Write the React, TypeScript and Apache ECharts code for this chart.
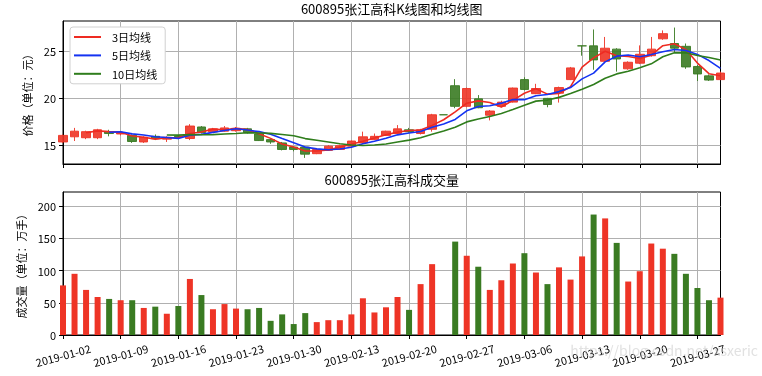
import React, { useEffect, useRef } from 'react';
import * as echarts from 'echarts';

const dates = [
  '2019-01-02','2019-01-03','2019-01-04','2019-01-07','2019-01-08','2019-01-09','2019-01-10','2019-01-11','2019-01-14','2019-01-15',
  '2019-01-16','2019-01-17','2019-01-18','2019-01-21','2019-01-22','2019-01-23','2019-01-24','2019-01-25','2019-01-28','2019-01-29',
  '2019-01-30','2019-01-31','2019-02-01','2019-02-11','2019-02-12','2019-02-13','2019-02-14','2019-02-15','2019-02-18','2019-02-19',
  '2019-02-20','2019-02-21','2019-02-22','2019-02-25','2019-02-26','2019-02-27','2019-02-28','2019-03-01','2019-03-04','2019-03-05',
  '2019-03-06','2019-03-07','2019-03-08','2019-03-11','2019-03-12','2019-03-13','2019-03-14','2019-03-15','2019-03-18','2019-03-19',
  '2019-03-20','2019-03-21','2019-03-22','2019-03-25','2019-03-26','2019-03-27','2019-03-28','2019-03-29',
];

const opens = [
  15.3, 15.85, 15.75, 15.75, 16.4, 16.15, 16.0, 15.3, 15.9, 15.6,
  15.9, 15.67, 16.9, 16.38, 16.45, 16.5, 16.7, 16.15, 15.55, 15.2,
  14.75, 14.75, 14.05, 14.4, 14.5, 14.85, 15.2, 15.55, 16.0, 16.2,
  16.6, 16.2, 16.65, 18.2, 21.3, 19.1, 19.9, 18.15, 19.1, 19.55,
  21.95, 20.45, 19.95, 20.5, 21.95, 25.55, 25.55, 23.9, 25.2, 23.1,
  23.7, 24.5, 26.3, 25.8, 25.5, 23.35, 22.35, 21.95,
];
const closes = [
  16.0, 16.45, 16.4, 16.6, 16.2, 16.25, 15.35, 15.8, 15.65, 15.8,
  15.8, 17.0, 16.3, 16.7, 16.8, 16.75, 16.3, 15.45, 15.3, 14.5,
  14.5, 14.0, 14.5, 14.85, 14.9, 15.4, 15.85, 15.9, 16.45, 16.7,
  16.4, 16.6, 18.2, 18.2, 19.1, 21.0, 18.95, 18.6, 19.55, 21.05,
  20.9, 21.0, 19.3, 21.1, 23.2, 25.55, 24.05, 25.3, 24.15, 23.8,
  24.65, 25.2, 26.85, 25.3, 23.3, 22.55, 21.9, 22.65,
];
const lows = [
  15.2, 15.4, 15.6, 15.6, 15.9, 16.0, 15.2, 15.2, 15.5, 15.3,
  15.7, 15.5, 16.2, 16.3, 16.4, 16.4, 16.2, 15.4, 15.1, 14.4,
  14.3, 13.6, 14.0, 14.35, 14.45, 14.8, 15.1, 15.5, 15.95, 16.1,
  16.3, 16.1, 16.4, 18.2, 18.9, 19.0, 18.9, 17.6, 19.0, 19.5,
  20.8, 20.4, 19.0, 19.5, 21.9, 24.5, 23.0, 23.7, 22.8, 23.0,
  23.6, 24.4, 26.2, 24.8, 23.1, 21.8, 21.8, 21.9,
];
const highs = [
  16.1, 16.8, 16.5, 16.7, 16.6, 16.4, 16.1, 15.9, 16.1, 15.9,
  16.0, 17.2, 17.0, 16.8, 17.0, 16.9, 16.8, 16.2, 15.6, 15.3,
  14.85, 14.8, 14.6, 14.95, 15.0, 15.45, 16.4, 16.2, 16.5, 17.1,
  16.8, 16.7, 18.3, 18.2, 22.0, 21.1, 20.3, 18.7, 19.7, 21.1,
  22.2, 21.5, 20.0, 21.2, 23.3, 25.55, 27.3, 26.5, 25.3, 23.9,
  25.6, 26.5, 27.2, 27.5, 25.8, 23.5, 22.5, 22.8,
];
// 成交量（万手）; null = no bar that day
const volumes = [
  77, 95, 70, 59, 56, 54, 54, 42, 44, 33,
  45, 87, 62, 40, 48, 41, 40, 42, 22, 32,
  17, 34, 20, 23, 23, 32, 57, 35, 43, 59,
  39, 79, 110, null, 145, 123, 106, 70, 85, 111,
  127, 97, 79, 105, 86, 122, 187, 181, 143, 83,
  99, 142, 134, 126, 95, 73, 54, 58,
];
const priceTicks = [15, 20, 25];
const volumeTicks = [0, 50, 100, 150, 200];
const maNames = ['3日均线', '5日均线', '10日均线'];
const maWindows = [3, 5, 10];

const RED = '#ee3426';
const GREEN = '#3a7b22';
const MA_COLORS = ['#ee2b22', '#1433f2', '#2f7d1c'];
const FONT = '"Noto Sans CJK SC", "DejaVu Sans", sans-serif';

function movingAverage(values: number[], n: number) {
  return values.map((_, i) => {
    if (i < n - 1) return null;
    let s = 0;
    for (let k = i - n + 1; k <= i; k++) s += values[k];
    return +(s / n).toFixed(3);
  });
}

export default function App() {
  const ref = useRef<HTMLDivElement>(null);
  useEffect(() => {
    if (!ref.current) return;
    const chart = echarts.init(ref.current, undefined, { renderer: 'svg' });
    const kData = dates.map((_, i) => [opens[i], closes[i], lows[i], highs[i]]);
    const volData = volumes.map((v, i) => ({
      value: v,
      itemStyle: { color: closes[i] >= opens[i] ? RED : GREEN },
    }));
    const gridLine = { show: true, lineStyle: { color: '#b0b0b0', width: 1 } };
    const axisLine = { show: true, lineStyle: { color: '#000', width: 1 } };
    const tickStyle = { show: true, length: 4, inside: false, lineStyle: { color: '#000' } };
    const labelFont = { color: '#000', fontSize: 11, fontFamily: FONT };

    chart.setOption({
      animation: false,
      textStyle: { fontFamily: FONT },
      legend: {
        data: maNames,
        orient: 'vertical',
        left: 70,
        top: 27,
        backgroundColor: '#fff',
        borderColor: '#d0d0d0',
        borderWidth: 1,
        borderRadius: 3,
        padding: [4, 8, 4, 4],
        itemWidth: 27,
        itemHeight: 2,
        itemGap: 6.4,
        icon: 'rect',
        textStyle: { fontSize: 11, lineHeight: 12, color: '#000', fontFamily: FONT, padding: [0, 0, 0, 6] },
      },
      grid: [
        { left: 63, right: 41.5, top: 21, height: 143, show: true, borderColor: '#000', borderWidth: 1, backgroundColor: 'transparent' },
        { left: 63, right: 41.5, top: 192, height: 143, show: true, borderColor: '#000', borderWidth: 1, backgroundColor: 'transparent' },
      ],
      xAxis: [
        {
          type: 'category', gridIndex: 0, data: dates, boundaryGap: false,
          axisLine, axisTick: { ...tickStyle, interval: 4 },
          axisLabel: { show: false, interval: 4 },
          splitLine: { ...gridLine, interval: 4 },
        },
        {
          type: 'category', gridIndex: 1, data: dates, boundaryGap: false,
          axisLine, axisTick: { ...tickStyle, interval: 4 },
          axisLabel: { ...labelFont, interval: 4, rotate: 15, align: 'center', verticalAlign: 'middle', margin: 20 },
          splitLine: { ...gridLine, interval: 4 },
        },
      ],
      yAxis: [
        {
          type: 'value', gridIndex: 0, min: 12.95, max: 28.2,
          name: '价格（单位：元）', nameLocation: 'middle', nameGap: 25, nameRotate: 90,
          nameTextStyle: { fontSize: 11, color: '#000', fontFamily: FONT },
          axisLine, axisTick: { ...tickStyle, customValues: priceTicks },
          axisLabel: { ...labelFont, customValues: priceTicks, margin: 7 },
          splitLine: gridLine,
        },
        {
          type: 'value', gridIndex: 1, min: 0, max: 222,
          name: '成交量（单位：万手）', nameLocation: 'middle', nameGap: 31, nameRotate: 90,
          nameTextStyle: { fontSize: 11, color: '#000', fontFamily: FONT },
          axisLine, axisTick: { ...tickStyle, customValues: volumeTicks },
          axisLabel: { ...labelFont, customValues: volumeTicks, margin: 7 },
          splitLine: gridLine,
        },
      ],
      graphic: [
        { type: 'text', x: 391.75, y: 2, style: { text: '600895张江高科K线图和均线图', fill: '#000', font: `13px ${FONT}`, textAlign: 'center', textVerticalAlign: 'top' } },
        { type: 'text', x: 391.75, y: 173, style: { text: '600895张江高科成交量', fill: '#000', font: `13px ${FONT}`, textAlign: 'center', textVerticalAlign: 'top' } },
        { type: 'text', right: 4, top: 343, z: 100, style: { text: 'https://blog.csdn.net/xsxeric', fill: 'rgba(200,200,200,0.55)', font: `14px ${FONT}` } },
      ],
      series: [
        {
          type: 'candlestick', xAxisIndex: 0, yAxisIndex: 0, data: kData, barWidth: 9,
          itemStyle: { color: RED, color0: GREEN, borderColor: RED, borderColor0: GREEN, borderColorDoji: GREEN, opacity: 0.9 },
        },
        ...maNames.map((name, k) => ({
          type: 'line', name, xAxisIndex: 0, yAxisIndex: 0,
          data: movingAverage(closes, maWindows[k]),
          showSymbol: false, symbol: 'none',
          lineStyle: { color: MA_COLORS[k], width: 1.6 },
          itemStyle: { color: MA_COLORS[k] },
        })),
        {
          type: 'bar', xAxisIndex: 1, yAxisIndex: 1, data: volData, barWidth: 6,
        },
      ],
    });
    return () => chart.dispose();
  }, []);
  return <div ref={ref} style={{ position: 'fixed', left: 0, top: 0, width: 762, height: 376 }} />;
}
